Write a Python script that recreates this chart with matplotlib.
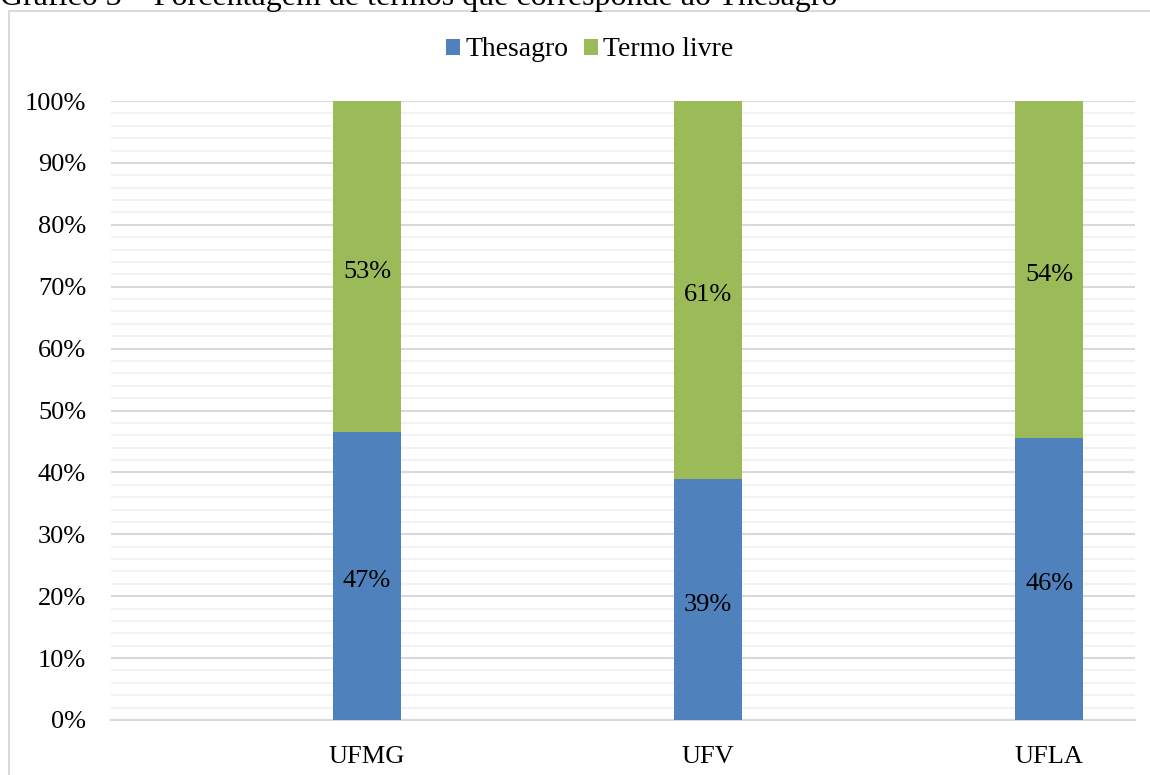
import matplotlib.pyplot as plt
from matplotlib.patches import Rectangle
from matplotlib.ticker import MultipleLocator, FuncFormatter

universidades = ["UFMG", "UFV", "UFLA"]
thesagro = [46.6, 38.9, 45.6]
termo_livre = [53.4, 61.1, 54.4]

azul = "#4F81BD"
verde = "#9BBB59"

plt.rcParams['font.family'] = ['Liberation Serif', 'DejaVu Serif']

fig = plt.figure(figsize=(11.5, 7.75), dpi=100)
ax = fig.add_axes([111/1150, 1 - 720/775, 1024/1150, 619/775])

# moldura cinza do grafico (cortada na borda)
fig.patches.append(Rectangle((9/1150, -0.05), 1.2, 1 - 11/775 + 0.05,
                             transform=fig.transFigure, fill=False,
                             edgecolor="#D9D9D9", linewidth=1.5))
fig.text(0, 1 - 5/775, "Gráfico 3 – Porcentagem de termos que corresponde ao Thesagro",
         fontsize=23, ha="left", va="baseline", color="black")

x = range(len(universidades))
b1 = ax.bar(x, thesagro, width=0.2, color=azul, label="Thesagro", zorder=3)
b2 = ax.bar(x, termo_livre, width=0.2, bottom=thesagro, color=verde,
            label="Termo livre", zorder=3)
anns = ax.bar_label(b1, labels=[f"{v:.0f}%" for v in thesagro], label_type="center", fontsize=19)
anns += ax.bar_label(b2, labels=[f"{v:.0f}%" for v in termo_livre], label_type="center", fontsize=19)
for a in anns:
    a.xyann = (0, -3.8)

ax.set_xlim(-0.751, 2.252)
ax.set_ylim(0, 100)
ax.yaxis.set_major_locator(MultipleLocator(10))
ax.yaxis.set_minor_locator(MultipleLocator(2))
ax.yaxis.set_major_formatter(FuncFormatter(lambda v, p: f"{v:.0f}%"))
ax.grid(axis="y", which="major", color="#D9D9D9", linewidth=1.5, zorder=0)
ax.grid(axis="y", which="minor", color="#F2F2F2", linewidth=1.5, zorder=0)
ax.set_axisbelow(True)
ax.set_xticks(list(x))
ax.set_xticklabels(universidades)
ax.tick_params(axis="both", which="both", length=0, labelsize=19)
ax.tick_params(axis="y", pad=18)
ax.tick_params(axis="x", pad=19)
for s in ["top", "right", "left"]:
    ax.spines[s].set_visible(False)
ax.spines["bottom"].set_color("#D9D9D9")
ax.spines["bottom"].set_linewidth(1.5)

ax.legend(loc="center", bbox_to_anchor=(590/1150, 1 - 50/775), bbox_transform=fig.transFigure,
          ncol=2, frameon=False, fontsize=20, handlelength=0.5, handleheight=0.5,
          handletextpad=0.2, columnspacing=0.55, borderpad=0)

fig.savefig("out.png", dpi=100)
